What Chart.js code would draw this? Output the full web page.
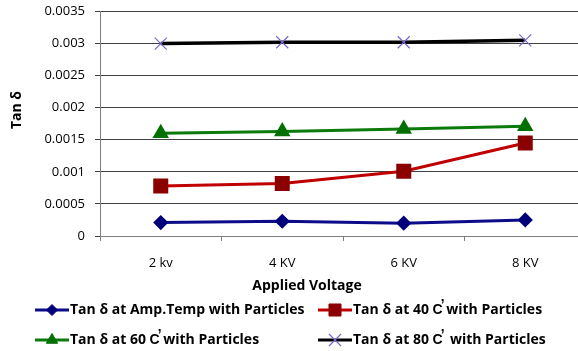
<!DOCTYPE html>
<html>
<head>
<meta charset="utf-8">
<script src="https://cdn.jsdelivr.net/npm/chart.js@4/dist/chart.umd.min.js"></script>
<style>
html,body{margin:0;padding:0;background:#fff;overflow:hidden;}
#wrap{position:relative;width:600px;height:351px;}
</style>
</head>
<body>
<div id="wrap"><canvas id="c" width="600" height="351"></canvas></div>
<script>
const categories = ['2 kv', '4 KV', '6 KV', '8 KV'];
const yTickLabels = ['0', '0.0005', '0.001', '0.0015', '0.002', '0.0025', '0.003', '0.0035'];
const xTitle = 'Applied Voltage';
const yTitle = 'Tan \u03b4';
const seriesNames = [
  'Tan \u03b4 at Amp.Temp with Particles',
  'Tan \u03b4 at 40 C\u0315 with Particles',
  'Tan \u03b4 at 60 C\u0315 with Particles',
  'Tan \u03b4 at 80 C\u0315  with Particles'
];
const ampTemp = [0.00021, 0.00023, 0.00020, 0.00025];
const temp40 = [0.00078, 0.00082, 0.00101, 0.00145];
const temp60 = [0.00160, 0.00163, 0.00167, 0.00171];
const temp80 = [0.00300, 0.00302, 0.00302, 0.00305];

const FONT = "'Open Sans', sans-serif";

const legendPlugin = {
  id: 'customLegend',
  afterDraw(chart) {
    const ctx = chart.ctx;
    // axis titles
    ctx.save();
    ctx.fillStyle = '#000';
    ctx.font = "bold 14px " + FONT;
    ctx.textAlign = 'center';
    ctx.textBaseline = 'middle';
    ctx.fillText(xTitle, 307, 286);
    ctx.translate(17, 110);
    ctx.rotate(-Math.PI / 2);
    ctx.fillText(yTitle, 0, 0);
    ctx.restore();
    // legend
    const pos = [[35, 310], [318, 310], [35, 340], [318, 340]];
    chart.data.datasets.forEach((ds, i) => {
      const [x, y] = pos[i];
      ctx.save();
      ctx.strokeStyle = ds.borderColor;
      ctx.lineWidth = 3;
      ctx.beginPath(); ctx.moveTo(x, y); ctx.lineTo(x + 34, y); ctx.stroke();
      ctx.restore();
      ctx.save();
      ctx.fillStyle = ds.pointBackgroundColor;
      ctx.strokeStyle = ds.pointBorderColor;
      ctx.lineWidth = ds.pointBorderWidth || 1;
      Chart.helpers.drawPoint(ctx, {pointStyle: ds.pointStyle, radius: ds.pointRadius, borderWidth: ds.pointBorderWidth || 1, rotation: 0}, x + 17, y);
      ctx.restore();
      ctx.save();
      ctx.fillStyle = '#000';
      ctx.font = "bold 14px " + FONT;
      ctx.textBaseline = 'middle';
      ctx.fillText(ds.label, x + 35, y);
      ctx.restore();
    });
  }
};

new Chart(document.getElementById('c'), {
  type: 'line',
  data: {
    labels: categories,
    datasets: [
      {label: seriesNames[0], data: ampTemp, borderColor: '#0c0c8a', backgroundColor: '#00007a',
       pointBackgroundColor: '#00007a', pointBorderColor: '#00007a', pointStyle: 'rectRot', pointRadius: 5.5, borderWidth: 3},
      {label: seriesNames[1], data: temp40, borderColor: '#c00000', backgroundColor: '#8b0000',
       pointBackgroundColor: '#8b0000', pointBorderColor: '#8b0000', pointStyle: 'rect', pointRadius: 8.5, borderWidth: 3},
      {label: seriesNames[2], data: temp60, borderColor: '#0a7a0a', backgroundColor: '#007000',
       pointBackgroundColor: '#007000', pointBorderColor: '#007000', pointStyle: 'triangle', pointRadius: 6.5, borderWidth: 3},
      {label: seriesNames[3], data: temp80, borderColor: '#000000', backgroundColor: '#7868c8',
       pointBackgroundColor: '#7868c8', pointBorderColor: '#7868c8', pointStyle: 'crossRot', pointRadius: 8.5, pointBorderWidth: 1.2, borderWidth: 3.5}
    ]
  },
  options: {
    responsive: false,
    animation: false,
    layout: {padding: {left: 0, right: 14, top: 10, bottom: 60}},
    plugins: {legend: {display: false}, tooltip: {enabled: false}},
    elements: {line: {tension: 0}},
    scales: {
      x: {
        offset: true,
        grid: {offset: true, drawOnChartArea: false, drawTicks: true, tickLength: 5, color: '#808080'},
        border: {display: true, color: '#808080'},
        ticks: {color: '#000', font: {family: FONT, size: 13}, padding: 14},
        afterFit(s) { s.height = 55; s.paddingLeft = 0; s.paddingRight = 0; }
      },
      y: {
        min: 0, max: 0.0035,
        ticks: {stepSize: 0.0005, color: '#000', font: {family: FONT, size: 13}, padding: 10,
          callback: (v, i) => yTickLabels[i]},
        grid: {color: '#404040', tickLength: 5},
        border: {display: true, color: '#808080'},
        afterFit(s) { s.width = 100; s.paddingTop = 0; s.paddingBottom = 0; }
      }
    }
  },
  plugins: [legendPlugin]
});
</script>
</body>
</html>
